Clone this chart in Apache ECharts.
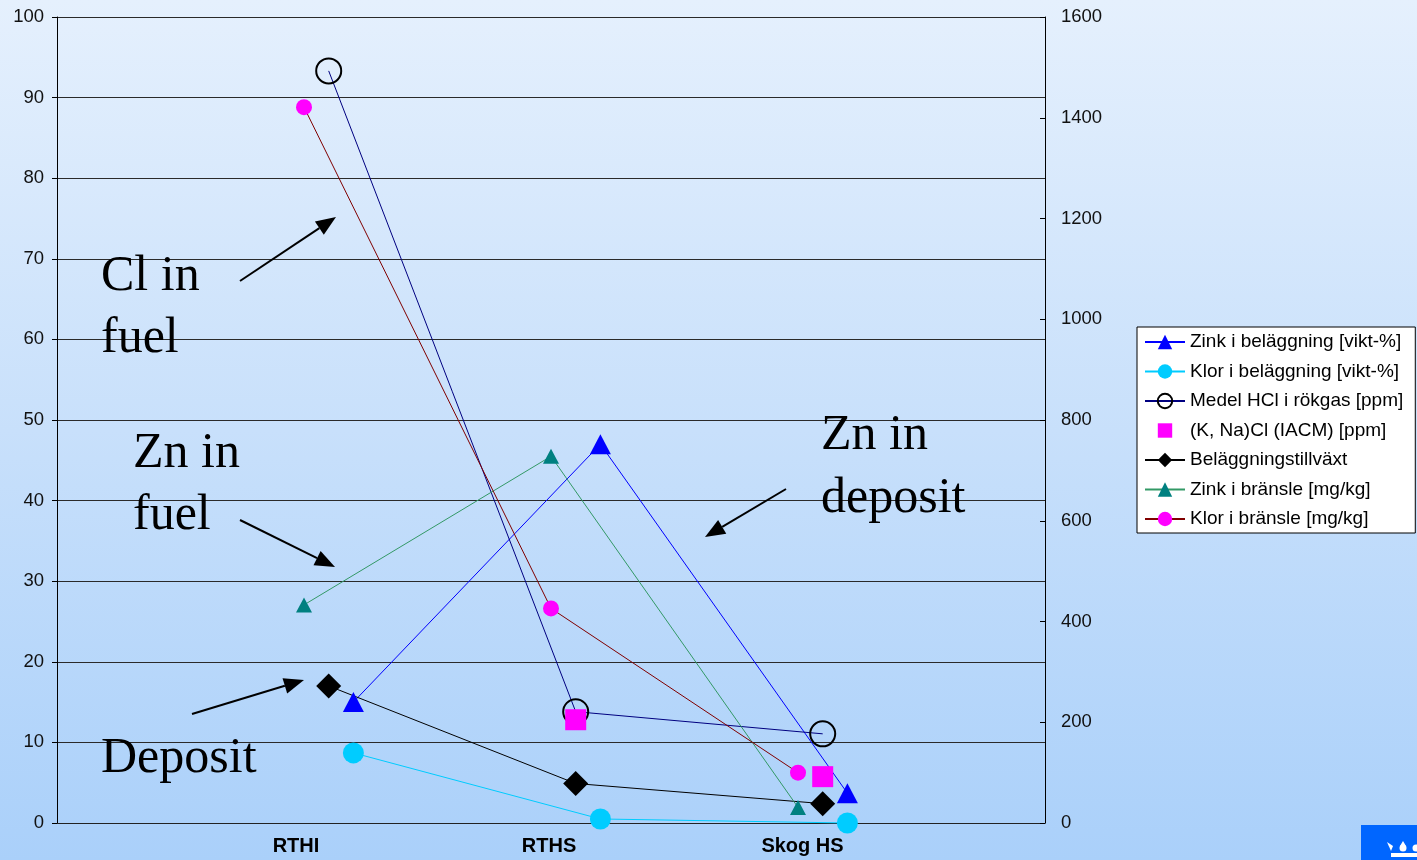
<!DOCTYPE html>
<html>
<head>
<meta charset="utf-8">
<script src="https://cdn.jsdelivr.net/npm/echarts@6/dist/echarts.min.js"></script>
<style>
  html, body { margin: 0; padding: 0; }
  #chart { width: 1417px; height: 860px; }
</style>
</head>
<body>
<div id="chart"></div>
<script>
// Sites compared
const categories = ['RTHI', 'RTHS', 'Skog HS'];

// Left axis (vikt-% / growth)
const zinkBelaggning = [15, 47, 3.7];
const klorBelaggning = [8.7, 0.5, 0];
const tillvaxt = [17, 4.9, 2.4];

// Right axis (ppm / mg/kg)
const hclRokgas = [1493, 221, 177];
const knaCl = [null, 205, 92];
const zinkBransle = [433, 728, 31];
const klorBransle = [1421, 426, 100];

// Axis ranges
const leftMax = 100, leftStep = 10;
const rightMax = 1600, rightStep = 200;

// Horizontal shift of each group of markers within a site
const SHIFT_FUEL = 0, SHIFT_GAS = 0.1, SHIFT_DEPOSIT = 0.2;

function pts(values, shift) {
  return values.map((v, i) => v == null ? null : [i + 1 + shift, v]);
}

const FONT = '"Liberation Sans", Arial, sans-serif';
const SERIF = '"Liberation Serif", "Times New Roman", serif';

const chart = echarts.init(document.getElementById('chart'));

function arrow(x1, y1, x2, y2) {
  const len = 20, half = 8;
  const dx = x2 - x1, dy = y2 - y1;
  const d = Math.sqrt(dx * dx + dy * dy);
  const ux = dx / d, uy = dy / d;
  const bx = x2 - ux * len, by = y2 - uy * len;
  return [
    { type: 'line', shape: { x1: x1, y1: y1, x2: bx, y2: by },
      style: { stroke: '#000', lineWidth: 2 }, z: 10 },
    { type: 'polygon',
      shape: { points: [[x2, y2], [bx - uy * half, by + ux * half], [bx + uy * half, by - ux * half]] },
      style: { fill: '#000' }, z: 10 }
  ];
}

function label(text, x, y) {
  return { type: 'text', x: x, y: y, z: 10,
    style: { text: text, font: 'normal 50px ' + SERIF, fill: '#000', verticalAlign: 'middle', align: 'left' } };
}

const graphics = [].concat(
  label('Cl in', 101, 277), label('fuel', 101, 339),
  label('Zn in', 133, 454), label('fuel', 133, 516),
  label('Zn in', 821, 436), label('deposit', 821, 499),
  label('Deposit', 101, 759),
  arrow(240, 281, 336, 217),
  arrow(240, 520, 335, 567),
  arrow(786, 489, 705, 537),
  arrow(192, 714, 304, 680),
  [
    { type: 'rect', shape: { x: 1361, y: 825, width: 56, height: 35 }, style: { fill: '#0066FF' }, z: 10 },
    { type: 'polygon', shape: { points: [[1387, 842], [1393, 846], [1391, 851]] }, style: { fill: '#fff' }, z: 11 },
    { type: 'circle', shape: { cx: 1403, cy: 848, r: 3.5 }, style: { fill: '#fff' }, z: 11 },
    { type: 'polygon', shape: { points: [[1400, 846], [1403, 841], [1406, 846]] }, style: { fill: '#fff' }, z: 11 },
    { type: 'circle', shape: { cx: 1416, cy: 848, r: 3.5 }, style: { fill: '#fff' }, z: 11 },
    { type: 'rect', shape: { x: 1391, y: 853, width: 26, height: 4 }, style: { fill: '#fff' }, z: 11 }
  ]
);

function lineSeries(name, data, yIndex, opts) {
  return Object.assign({
    name: name, type: 'line', data: data, yAxisIndex: yIndex,
    clip: false, connectNulls: false, showAllSymbol: true
  }, opts);
}

const catLabelBase = { fontSize: 20, fontWeight: 'bold', fontFamily: FONT, color: '#000' };

chart.setOption({
  animation: false,
  backgroundColor: new echarts.graphic.LinearGradient(0, 0, 0, 1, [
    { offset: 0, color: '#E5F0FD' },
    { offset: 0.5, color: '#C8E0FB' },
    { offset: 1, color: '#AAD0FA' }
  ]),
  grid: { left: 57, right: 372, top: 17, bottom: 37, containLabel: false },
  xAxis: {
    type: 'value', min: 0, max: 4, interval: 1,
    axisLine: { show: true, onZero: false, lineStyle: { color: '#222', width: 1 } },
    axisTick: { show: false },
    splitLine: { show: false },
    axisLabel: {
      margin: 13, fontSize: 20, fontWeight: 'bold', fontFamily: FONT, color: '#000',
      formatter: v => (categories[v - 1] ? '{c' + v + '|' + categories[v - 1] + '}' : ''),
      rich: {
        c1: Object.assign({ padding: [0, 16, 0, 0] }, catLabelBase),
        c2: Object.assign({ padding: [0, 4, 0, 0] }, catLabelBase),
        c3: Object.assign({ padding: [0, 0, 0, 9] }, catLabelBase)
      }
    }
  },
  yAxis: [
    {
      type: 'value', min: 0, max: leftMax, interval: leftStep, position: 'left',
      axisLine: { show: true, lineStyle: { color: '#000', width: 1 } },
      axisTick: { show: true, length: 5, lineStyle: { color: '#000' } },
      splitLine: { show: true, lineStyle: { color: '#2a2a2a', width: 1 } },
      axisLabel: { fontSize: 18.5, fontFamily: FONT, color: '#111', margin: 13 }
    },
    {
      type: 'value', min: 0, max: rightMax, interval: rightStep, position: 'right',
      axisLine: { show: true, lineStyle: { color: '#000', width: 1 } },
      axisTick: { show: true, inside: true, length: 5, lineStyle: { color: '#000' } },
      splitLine: { show: false },
      axisLabel: { fontSize: 18.5, fontFamily: FONT, color: '#111', margin: 16, formatter: v => String(v) }
    }
  ],
  legend: {
    orient: 'vertical', left: 1137, top: 327,
    backgroundColor: '#fff', borderColor: '#000', borderWidth: 1, borderRadius: 0,
    padding: [5, 12, 4, 7],
    itemWidth: 40, itemHeight: 18, itemGap: 9.5,
    textStyle: { fontSize: 19, lineHeight: 20, fontFamily: FONT, color: '#000' },
    data: ['Zink i beläggning [vikt-%]', 'Klor i beläggning [vikt-%]', 'Medel HCl i rökgas [ppm]',
           '(K, Na)Cl (IACM) [ppm]', 'Beläggningstillväxt', 'Zink i bränsle [mg/kg]', 'Klor i bränsle [mg/kg]']
  },
  series: [
    lineSeries('Zink i beläggning [vikt-%]', pts(zinkBelaggning, SHIFT_DEPOSIT), 0, {
      symbol: 'triangle', symbolSize: [21, 20],
      itemStyle: { color: '#0000FF' }, lineStyle: { color: '#0000FF', width: 1 }
    }),
    lineSeries('Klor i beläggning [vikt-%]', pts(klorBelaggning, SHIFT_DEPOSIT), 0, {
      symbol: 'circle', symbolSize: 21,
      itemStyle: { color: '#00CCFF' }, lineStyle: { color: '#00CCFF', width: 1 }
    }),
    lineSeries('Medel HCl i rökgas [ppm]', pts(hclRokgas, SHIFT_GAS), 1, {
      symbol: 'circle', symbolSize: 25,
      itemStyle: { color: 'rgba(0,0,0,0)', borderColor: '#000', borderWidth: 2 },
      lineStyle: { color: '#000080', width: 1 }
    }),
    lineSeries('(K, Na)Cl (IACM) [ppm]', pts(knaCl, SHIFT_GAS), 1, {
      symbol: 'rect', symbolSize: 21,
      itemStyle: { color: '#FF00FF' }, lineStyle: { width: 0, color: 'rgba(0,0,0,0)' }
    }),
    lineSeries('Beläggningstillväxt', pts(tillvaxt, SHIFT_GAS), 0, {
      symbol: 'diamond', symbolSize: 25,
      itemStyle: { color: '#000' }, lineStyle: { color: '#000', width: 1 }
    }),
    lineSeries('Zink i bränsle [mg/kg]', pts(zinkBransle, SHIFT_FUEL), 1, {
      symbol: 'triangle', symbolSize: [16, 15],
      itemStyle: { color: '#008080' }, lineStyle: { color: '#339966', width: 1 }
    }),
    lineSeries('Klor i bränsle [mg/kg]', pts(klorBransle, SHIFT_FUEL), 1, {
      symbol: 'circle', symbolSize: 16,
      itemStyle: { color: '#FF00FF' }, lineStyle: { color: '#800000', width: 1 }
    })
  ],
  graphic: graphics
});
</script>
</body>
</html>
